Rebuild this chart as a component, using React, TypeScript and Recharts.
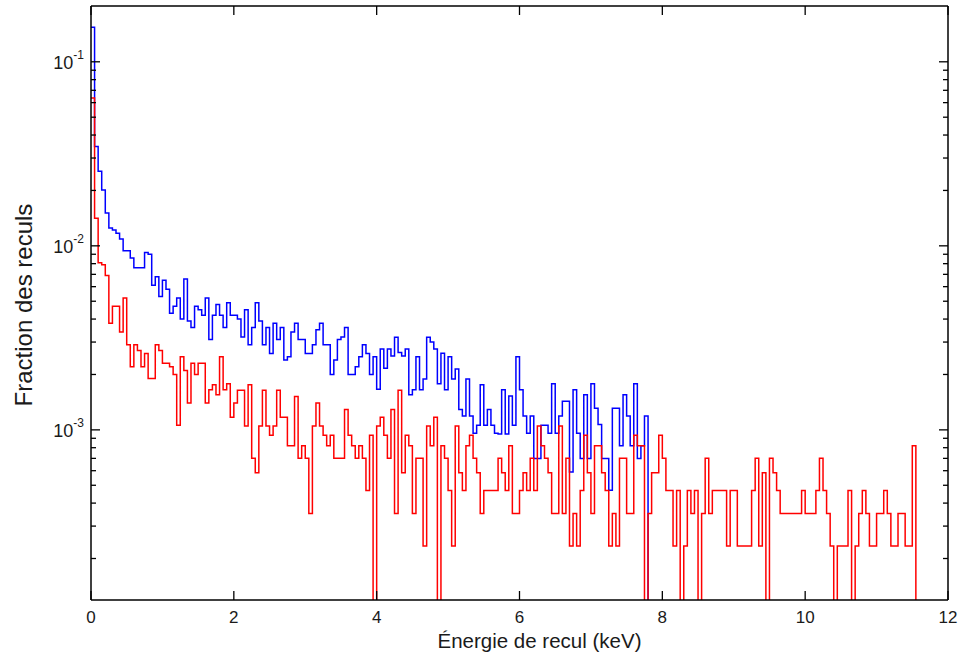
import React from "react";
import { LineChart, Line, XAxis, YAxis, ReferenceLine } from "recharts";

// ---- data (fraction of recoils per 0.05 keV bin) ----
const binWidth = 0.05; // keV

const blueFraction: number[] = [
  0.154, 0.0347, 0.0254, 0.0201, 0.0151, 0.0125, 0.0122, 0.0117, 0.0109, 0.0094,
  0.0094, 0.0086, 0.0076, 0.0076, 0.0076, 0.0092, 0.009, 0.0061, 0.0068, 0.0053,
  0.0065, 0.0058, 0.0043, 0.0047, 0.0052, 0.004, 0.0066, 0.0039, 0.0036, 0.0047,
  0.0045, 0.0042, 0.0052, 0.0031, 0.0042, 0.0048, 0.0042, 0.0036, 0.0049, 0.0042,
  0.0042, 0.004, 0.0032, 0.0045, 0.0029, 0.0036, 0.0049, 0.0039, 0.0029, 0.0036,
  0.0026, 0.0038, 0.0031, 0.0036, 0.0024, 0.0025, 0.0034, 0.0038, 0.0031, 0.0031,
  0.0026, 0.0026, 0.0029, 0.0035, 0.0038, 0.0029, 0.0029, 0.002, 0.0024, 0.0031,
  0.0032, 0.0036, 0.002, 0.002, 0.0022, 0.0025, 0.0029, 0.0026, 0.002, 0.0025,
  0.00166, 0.00275, 0.00216, 0.00275, 0.00252, 0.00319, 0.00263, 0.00252, 0.00275, 0.00155,
  0.00165, 0.0025, 0.00165, 0.00189, 0.00319, 0.003, 0.00275, 0.00178, 0.00261, 0.00165,
  0.0025, 0.00189, 0.00214, 0.00129, 0.00119, 0.00189, 0.00119, 0.00096, 0.00106, 0.00176,
  0.00106, 0.00129, 0.00106, 0.00096, 0.00095, 0.00165, 0.00095, 0.00153, 0.00106, 0.0025,
  0.00165, 0.00119, 0.00096, 0.00119, 0.0007, 0.0007, 0.00106, 0.00106, 0.00096, 0.00178,
  0.00096, 0.00119, 0.00143, 0.00143, 0.00059, 0.00165, 0.00096, 0.0007, 0.00155, 0.0007,
  0.00178, 0.00131, 0.00107, 0.0007, 0.0007, 0.00047, 0.00131, 0.00131, 0.00082, 0.00155,
  0.00119, 0.00082, 0.00178, 0.0007, 0.00082, 0.00119, 0.0001,
];

const redFraction: number[] = [
  0.0635, 0.0141, 0.0081, 0.0079, 0.0069, 0.0038, 0.0047, 0.0047, 0.0034, 0.0052,
  0.0029, 0.0022, 0.0029, 0.0027, 0.0022, 0.0026, 0.0019, 0.0019, 0.0029, 0.0027,
  0.0023, 0.0023, 0.0022, 0.002, 0.00106, 0.0025, 0.0021, 0.0014, 0.0023, 0.002,
  0.0023, 0.0023, 0.0014, 0.00165, 0.00176, 0.00155, 0.0025, 0.00165, 0.00178, 0.00117,
  1.4e-3, 1.64e-3, 1.64e-3, 1.05e-3, 1.76e-3, 7.02e-4, 5.85e-4, 1.05e-3, 1.64e-3, 1.05e-3,
  9.36e-4, 1.05e-3, 1.64e-3, 1.17e-3, 1.17e-3, 8.19e-4, 8.19e-4, 1.52e-3, 7.02e-4, 8.19e-4,
  7.02e-4, 3.51e-4, 1.05e-3, 1.4e-3, 1.05e-3, 9.36e-4, 8.19e-4, 9.36e-4, 7.02e-4, 7.02e-4,
  7.02e-4, 1.29e-3, 9.36e-4, 8.19e-4, 7.02e-4, 8.19e-4, 7.02e-4, 4.68e-4, 9.36e-4, 1e-4,
  1.05e-3, 1.17e-3, 9.36e-4, 7.02e-4, 1.29e-3, 3.51e-4, 1.64e-3, 5.85e-4, 9.36e-4, 8.19e-4,
  3.51e-4, 7.02e-4, 7.02e-4, 2.34e-4, 1.05e-3, 8.19e-4, 1.17e-3, 1e-4, 8.19e-4, 7.02e-4,
  4.68e-4, 2.34e-4, 1.05e-3, 5.85e-4, 4.68e-4, 8.19e-4, 9.36e-4, 7.02e-4, 5.85e-4, 3.51e-4,
  4.68e-4, 4.68e-4, 4.68e-4, 4.68e-4, 7.02e-4, 5.85e-4, 4.68e-4, 8.19e-4, 3.51e-4, 3.51e-4,
  4.68e-4, 5.85e-4, 4.68e-4, 7.02e-4, 4.68e-4, 1.05e-3, 8.19e-4, 7.02e-4, 5.85e-4, 3.51e-4,
  3.51e-4, 1.05e-3, 3.51e-4, 7.02e-4, 2.34e-4, 3.51e-4, 2.34e-4, 4.68e-4, 9.36e-4, 5.85e-4,
  3.51e-4, 8.19e-4, 8.19e-4, 5.85e-4, 4.68e-4, 2.34e-4, 3.51e-4, 2.34e-4, 7.02e-4, 7.02e-4,
  3.51e-4, 3.51e-4, 9.36e-4, 8.19e-4, 8.19e-4, 1e-4, 3.51e-4, 5.85e-4, 5.85e-4, 9.36e-4,
  7.02e-4, 4.68e-4, 4.68e-4, 2.34e-4, 4.68e-4, 1e-4, 2.34e-4, 4.68e-4, 3.51e-4, 4.68e-4,
  1e-4, 3.51e-4, 7.02e-4, 3.51e-4, 4.68e-4, 4.68e-4, 4.68e-4, 4.68e-4, 2.34e-4, 4.68e-4,
  4.68e-4, 2.34e-4, 2.34e-4, 2.34e-4, 2.34e-4, 4.68e-4, 7.02e-4, 2.34e-4, 5.85e-4, 1e-4,
  7.02e-4, 5.85e-4, 4.68e-4, 3.51e-4, 3.51e-4, 3.51e-4, 3.51e-4, 3.51e-4, 3.51e-4, 4.68e-4,
  3.51e-4, 3.51e-4, 3.51e-4, 4.68e-4, 7.02e-4, 4.68e-4, 3.51e-4, 2.34e-4, 1e-4, 2.34e-4,
  2.34e-4, 2.34e-4, 4.68e-4, 1e-4, 2.34e-4, 3.51e-4, 4.68e-4, 3.51e-4, 2.34e-4, 2.34e-4,
  3.51e-4, 3.51e-4, 4.68e-4, 3.51e-4, 2.34e-4, 2.34e-4, 3.51e-4, 3.51e-4, 2.34e-4, 2.34e-4,
  8.19e-4, 1e-4,
];

const xTicks = [0, 2, 4, 6, 8, 10, 12];
const yTicks = [
  2e-4, 3e-4, 4e-4, 5e-4, 6e-4, 7e-4, 8e-4, 9e-4, 1e-3,
  2e-3, 3e-3, 4e-3, 5e-3, 6e-3, 7e-3, 8e-3, 9e-3, 1e-2,
  2e-2, 3e-2, 4e-2, 5e-2, 6e-2, 7e-2, 8e-2, 9e-2, 1e-1,
];
const xDomain: [number, number] = [0, 12];
const yDomain: [number, number] = [1.19e-4, 0.201];

const xTitle = "Énergie de recul (keV)";
const yTitle = "Fraction des reculs";

const nBins = Math.max(blueFraction.length, redFraction.length);
const data = Array.from({ length: nBins }, (_, i) => ({
  energy: Math.round(i * binWidth * 100) / 100,
  blue: i < blueFraction.length ? blueFraction[i] : null,
  red: i < redFraction.length ? redFraction[i] : null,
}));

// ---- layout ----
const CHART_W = 965;
const CHART_H = 662;
const MARGIN = { top: 6, right: 17, bottom: 0, left: 0 };
const Y_AXIS_W = 91;
const X_AXIS_H = 62;
const PLOT_TOP = MARGIN.top;
const PLOT_RIGHT = CHART_W - MARGIN.right;
const FONT = "'Liberation Sans', Arial, Helvetica, sans-serif";
const TEXT = "#1a1a1a";

const XTick = (props: any) => {
  const { x, y, payload } = props;
  return (
    <g>
      <line x1={x} x2={x} y1={y} y2={y - 9} stroke="#000" strokeWidth={1.3} />
      <line x1={x} x2={x} y1={PLOT_TOP} y2={PLOT_TOP + 9} stroke="#000" strokeWidth={1.3} />
      <text x={x} y={y + 23} textAnchor="middle" fontSize={17} fontFamily={FONT} fill={TEXT}>
        {payload.value}
      </text>
    </g>
  );
};

const YTick = (props: any) => {
  const { x, y, payload } = props;
  const v = payload.value as number;
  const lg = Math.log10(v);
  const major = Math.abs(lg - Math.round(lg)) < 1e-6;
  const len = major ? 9 : 5;
  return (
    <g>
      <line x1={x} x2={x + len} y1={y} y2={y} stroke="#000" strokeWidth={1.3} />
      <line x1={PLOT_RIGHT} x2={PLOT_RIGHT - len} y1={y} y2={y} stroke="#000" strokeWidth={1.3} />
      {major && (
        <text x={x - 7} y={y + 7} textAnchor="end" fontFamily={FONT} fill={TEXT} fontSize={18}>
          <tspan>10</tspan>
          <tspan fontSize={12} dy={-10}>{"-" + String(-Math.round(lg))}</tspan>
        </text>
      )}
    </g>
  );
};

const XTitle = (props: any) => {
  const vb = props.viewBox || {};
  return (
    <text
      x={vb.x + vb.width / 2 + 20}
      y={vb.y + 48}
      textAnchor="middle"
      fontSize={20.5}
      fontFamily={FONT}
      fill={TEXT}
    >
      {xTitle}
    </text>
  );
};

const YTitle = (props: any) => {
  const vb = props.viewBox || {};
  const cx = 32;
  const cy = vb.y + vb.height / 2 + 2;
  return (
    <text
      x={cx}
      y={cy}
      textAnchor="middle"
      fontSize={24}
      fontFamily={FONT}
      fill={TEXT}
      transform={`rotate(-90, ${cx}, ${cy})`}
    >
      {yTitle}
    </text>
  );
};

export default function App() {
  return (
    <div style={{ position: "absolute", left: 0, top: 0, width: CHART_W, height: CHART_H, background: "#fff" }}>
      <LineChart width={CHART_W} height={CHART_H} data={data} margin={MARGIN}>
        <XAxis
          dataKey="energy"
          type="number"
          domain={xDomain}
          ticks={xTicks}
          interval={0}
          allowDataOverflow
          height={X_AXIS_H}
          tickSize={0}
          tickMargin={0}
          tickLine={false}
          tick={<XTick />}
          axisLine={{ stroke: "#000", strokeWidth: 1.5 }}
          label={XTitle}
        />
        <YAxis
          type="number"
          scale="log"
          domain={yDomain}
          ticks={yTicks}
          interval={0}
          allowDataOverflow
          width={Y_AXIS_W}
          tickSize={0}
          tickMargin={0}
          tickLine={false}
          tick={<YTick />}
          axisLine={{ stroke: "#000", strokeWidth: 1.5 }}
          label={YTitle}
        />
        <ReferenceLine x={xDomain[1]} stroke="#000" strokeWidth={1.5} />
        <ReferenceLine y={yDomain[1]} stroke="#000" strokeWidth={1.5} />
        <Line
          type="stepAfter"
          dataKey="blue"
          stroke="#0000ff"
          strokeWidth={1.5}
          dot={false}
          activeDot={false}
          isAnimationActive={false}
          connectNulls={false}
        />
        <Line
          type="stepAfter"
          dataKey="red"
          stroke="#ff0000"
          strokeWidth={1.5}
          dot={false}
          activeDot={false}
          isAnimationActive={false}
          connectNulls={false}
        />
      </LineChart>
    </div>
  );
}
